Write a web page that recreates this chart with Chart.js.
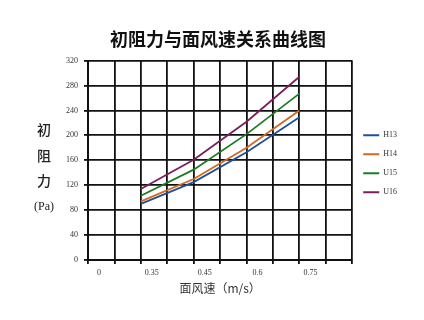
<!DOCTYPE html>
<html>
<head>
<meta charset="utf-8">
<script src="https://cdn.jsdelivr.net/npm/chart.js@4.4.1/dist/chart.umd.min.js"></script>
<style>
  html, body { margin: 0; padding: 0; background: #ffffff; }
  #wrap { width: 424px; height: 320px; position: relative; }
</style>
</head>
<body>
<div id="wrap"><canvas id="c" width="424" height="320"></canvas></div>
<script>
// Category slots along the x axis (grid lines); labels shown on every other slot
const xLabels = ['0', '', '0.35', '', '0.45', '', '0.6', '', '0.75', '', ''];
// Series values (Pa) per slot; null where no measurement
const h13 = [null, null, 90, null, 125, null, 173, null, 229, null, null];
const h14 = [null, null, 94, null, 130, null, 180, null, 240, null, null];
const u15 = [null, null, 103, null, 145, null, 202, null, 267, null, null];
const u16 = [null, null, 114, null, 161, null, 222, null, 294, null, null];
const seriesNames = ['H13', 'H14', 'U15', 'U16'];
const yTitleLines = ['初', '阻', '力', '(Pa)'];
const chartTitle = '初阻力与面风速关系曲线图';
const xTitle = '面风速（m/s）';

const colors = ['#1f4f9e', '#d2691e', '#1e7b24', '#7b1f5c'];
const allSeries = [h13, h14, u15, u16];

const yTitlePlugin = {
  id: 'yTitle',
  afterDraw(chart) {
    const ctx = chart.ctx;
    const a = chart.chartArea;
    ctx.save();
    ctx.fillStyle = '#222';
    ctx.textAlign = 'center';
    ctx.textBaseline = 'middle';
    yTitleLines.forEach((t, i) => {
      ctx.font = (i < 3 ? '500 14px "Noto Sans CJK SC"' : '12px "Liberation Serif"');
      ctx.fillText(t, a.left - 44, a.top + 69 + i * 25.7);
    });
    ctx.restore();
  }
};

new Chart(document.getElementById('c'), {
  type: 'line',
  data: {
    labels: xLabels,
    datasets: allSeries.map((d, i) => ({
      label: seriesNames[i],
      data: d,
      borderColor: colors[i],
      backgroundColor: colors[i],
      borderWidth: 1.8,
      pointRadius: 0,
      spanGaps: true,
      tension: 0,
      fill: false
    }))
  },
  options: {
    responsive: false,
    animation: false,
    layout: { padding: { left: 29, right: 17, top: 0, bottom: 24 } },
    plugins: {
      title: {
        display: true,
        text: chartTitle,
        color: '#111',
        font: { family: '"Noto Sans CJK SC"', size: 18, weight: 'bold' },
        padding: { top: 28, bottom: 11 }
      },
      legend: {
        position: 'right',
        title: { display: true, text: '', font: { size: 2 }, padding: { top: 29, bottom: 0 } },
        labels: {
          boxWidth: 16,
          boxHeight: 2,
          padding: 11,
          color: '#333',
          font: { family: '"Liberation Serif"', size: 8 },
          generateLabels(chart) {
            return Chart.defaults.plugins.legend.labels.generateLabels(chart).map(l => ({
              ...l, lineWidth: 0, fillStyle: l.strokeStyle
            }));
          }
        }
      },
      tooltip: { enabled: false }
    },
    scales: {
      x: {
        type: 'category',
        offset: false,
        grid: { color: '#111', lineWidth: 1.8, tickLength: 4, drawTicks: true },
        border: { color: '#111', width: 2 },
        ticks: {
          autoSkip: false,
          maxRotation: 0,
          padding: 4,
          labelOffset: 11,
          color: '#333',
          font: { family: '"Liberation Serif"', size: 8 }
        },
        title: {
          display: true,
          text: xTitle,
          color: '#333',
          font: { family: '"Noto Sans CJK SC"', size: 12 },
          padding: { top: 0, bottom: 0 }
        }
      },
      y: {
        min: 0,
        max: 320,
        grid: { color: '#111', lineWidth: 1.8, tickLength: 4 },
        border: { color: '#111', width: 2 },
        ticks: {
          stepSize: 40,
          padding: 6,
          color: '#333',
          font: { family: '"Liberation Serif"', size: 8 }
        },
        afterFit(scale) { scale.width = 59; }
      }
    }
  },
  plugins: [yTitlePlugin]
});
</script>
</body>
</html>
